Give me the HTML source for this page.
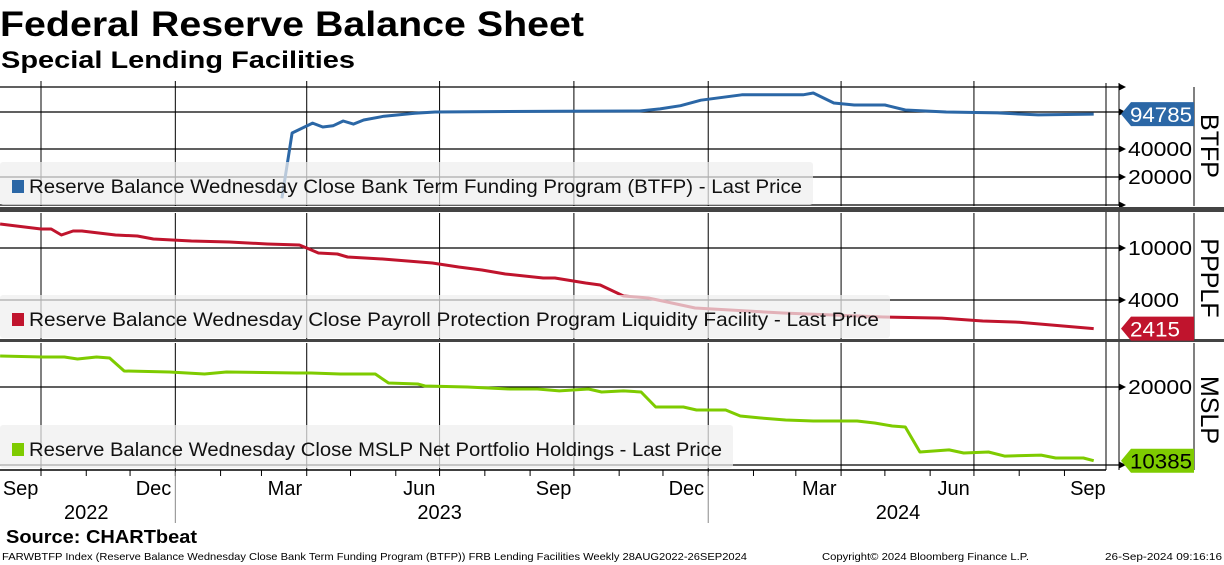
<!DOCTYPE html>
<html><head><meta charset="utf-8"><style>
html,body{margin:0;padding:0;background:#fff;width:1224px;height:565px;overflow:hidden}
svg{display:block;font-family:"Liberation Sans",sans-serif}
</style></head><body>
<svg id="chart" width="1224" height="565" viewBox="0 0 1224 565" xmlns="http://www.w3.org/2000/svg">
<text x="0" y="36" font-size="35" font-weight="bold" textLength="584" lengthAdjust="spacingAndGlyphs">Federal Reserve Balance Sheet</text>
<text x="1" y="68" font-size="24" font-weight="bold" textLength="354" lengthAdjust="spacingAndGlyphs">Special Lending Facilities</text>
<g id="grid"></g>
<g id="series"></g>
<g id="over"></g>
<text x="6" y="543" font-size="18" font-weight="bold" textLength="191" lengthAdjust="spacingAndGlyphs">Source: CHARTbeat</text>
<text x="2" y="560" font-size="10.5" textLength="745" lengthAdjust="spacingAndGlyphs">FARWBTFP Index (Reserve Balance Wednesday Close Bank Term Funding Program (BTFP)) FRB Lending Facilities  Weekly 28AUG2022-26SEP2024</text>
<text x="822" y="560" font-size="10.5" textLength="207" lengthAdjust="spacingAndGlyphs">Copyright© 2024 Bloomberg Finance L.P.</text>
<text x="1105" y="560" font-size="10.5" textLength="117" lengthAdjust="spacingAndGlyphs">26-Sep-2024 09:16:16</text>
</svg>
<script>
const btfpDates=["2023-03-15","2023-03-22","2023-04-05","2023-04-12","2023-04-19","2023-04-26","2023-05-03","2023-05-10","2023-05-24","2023-06-14","2023-06-28","2023-09-20","2023-11-15","2023-11-29","2023-12-13","2023-12-27","2024-01-24","2024-01-31","2024-03-06","2024-03-13","2024-03-27","2024-04-10","2024-05-01","2024-05-15","2024-06-12","2024-07-17","2024-08-14","2024-09-21"];
const btfpValues=[11800,59400,76000,69000,71000,80000,74000,82000,90000,97000,100000,102000,102500,107800,116700,134000,153000,153000,153000,160000,125000,119000,119000,105000,100000,97800,93000,94785];
const ppplfDates=["2022-09-03","2022-10-01","2022-10-08","2022-10-15","2022-10-23","2022-10-29","2022-11-21","2022-12-06","2022-12-17","2022-12-30","2023-01-12","2023-02-07","2023-03-05","2023-03-27","2023-04-01","2023-04-09","2023-04-22","2023-04-29","2023-05-23","2023-06-26","2023-07-14","2023-07-30","2023-08-15","2023-09-10","2023-09-18","2023-10-09","2023-10-19","2023-11-04","2023-11-21","2023-12-23","2024-02-21","2024-04-30","2024-06-09","2024-07-07","2024-08-01","2024-08-24","2024-09-21"];
const ppplfValues=[15260,13980,13980,12580,13490,13490,12580,12350,11720,11510,11310,11110,10730,10540,10000,9155,8995,8534,8238,7677,7154,6784,6323,5893,5893,5396,5210,4290,4140,3472,3181,2963,2910,2765,2707,2571,2415];
const mslpDates=["2022-09-03","2022-10-02","2022-10-17","2022-10-26","2022-11-08","2022-11-17","2022-11-27","2022-12-28","2023-01-21","2023-02-05","2023-03-25","2023-04-04","2023-04-24","2023-05-18","2023-05-27","2023-06-16","2023-06-21","2023-07-20","2023-08-18","2023-09-06","2023-09-21","2023-10-11","2023-10-20","2023-11-04","2023-11-16","2023-11-26","2023-12-15","2023-12-24","2024-01-13","2024-01-23","2024-02-06","2024-02-23","2024-03-13","2024-03-28","2024-04-12","2024-04-24","2024-05-06","2024-05-15","2024-05-25","2024-06-14","2024-06-24","2024-07-11","2024-07-22","2024-08-16","2024-08-26","2024-09-14","2024-09-21"];
const mslpValues=[26340,26110,26110,25660,26110,25890,23060,22860,22450,22860,22650,22650,22450,22450,20720,20540,20180,20000,19650,19650,19310,19650,19130,19310,19130,16740,16740,16300,16300,15450,15180,14910,14780,14780,14780,14520,14140,14020,11220,11430,11120,11220,10820,10920,10640,10640,10385];
const monthLabels=["Sep","Dec","Mar","Jun","Sep","Dec","Mar","Jun","Sep"];
const monthLabelDates=["2022-09-15","2022-12-15","2023-03-15","2023-06-15","2023-09-15","2023-12-15","2024-03-15","2024-06-15","2024-09-15"];
const yearLabels=["2022","2023","2024"];
const yearLabelDates=["2022-11-01","2023-07-01","2024-05-10"];
const btfpTicks=[40000,20000];
const ppplfTicks=[10000,4000];
const mslpTicks=[20000];

const NS="http://www.w3.org/2000/svg";
const ORIGIN=Date.UTC(2022,9,1);
function xScale(s){const p=s.split("-");const d=(Date.UTC(+p[0],+p[1]-1,+p[2])-ORIGIN)/86400000;return 41+d*1.46;}
function logScale(refV,refY,k){return v=>refY-k*Math.log(v/refV);}
const yB=logScale(40000,149,40.4), yP=logScale(10000,248,56.75), yM=logScale(20000,387,112.5);
function el(tag,attrs,parent,text){const e=document.createElementNS(NS,tag);for(const k in attrs)e.setAttribute(k,attrs[k]);if(text!==undefined)e.textContent=text;parent.appendChild(e);return e;}
const grid=document.getElementById('grid'),series=document.getElementById('series'),over=document.getElementById('over');

const panels=[{top:87,bot:206,ys:yB,grid:[100000,40000,20000,10000]},{top:213,bot:339,ys:yP,grid:[10000,4000]},{top:343,bot:470,ys:yM,grid:[20000,10000]}];
const vdates=["2022-10-01","2023-01-01","2023-04-01","2023-07-01","2023-10-01","2024-01-01","2024-04-01","2024-07-01"];
panels.forEach((p,pi)=>{
  vdates.forEach(d=>{const x=xScale(d);const l=el('line',{x1:x,x2:x,y1:p.top,y2:p.bot,stroke:'#000','stroke-width':1},grid);
    
    });
  p.grid.forEach(v=>{const y=p.ys(v);if(y<p.top-3||y>p.bot+3)return;const l=el('line',{x1:0,x2:1119,y1:y,y2:y,stroke:'#000','stroke-width':1.3},grid);
    
    
    const a=el('path',{d:`M1119 ${y-3.5}L1126 ${y}L1119 ${y+3.5}Z`,fill:'#000'},grid);
    
    });
  el('line',{x1:1106,x2:1106,y1:p.top-4,y2:p.bot,stroke:'#000','stroke-width':1},grid);
  el('line',{x1:1119,x2:1119,y1:p.top-4,y2:p.bot,stroke:'#000','stroke-width':1},grid);
  el('line',{x1:1194,x2:1194,y1:p.top,y2:p.bot,stroke:'#000','stroke-width':1},grid);
});
let topLine=el('line',{x1:0,x2:1119,y1:87,y2:87,stroke:'#000','stroke-width':1.3},grid);


el('path',{d:'M1119 83.5L1126 87L1119 90.5Z',fill:'#000'},grid);
vdates.forEach(d=>{const x=xScale(d);el('line',{x1:x,x2:x,y1:81,y2:87,stroke:'#000'},grid);});
let s1=el('rect',{x:0,y:207,width:1224,height:5,fill:'#444'},grid);


let s2=el('rect',{x:0,y:339,width:1224,height:3,fill:'#444'},grid);


el('line',{x1:0,x2:1106,y1:470,y2:470,stroke:'#000','stroke-width':1.5},grid);

function drawSeries(dates,vals,ys,color,name){
  const d=dates.map((t,i)=>(i?'L':'M')+xScale(t).toFixed(1)+' '+ys(vals[i]).toFixed(1)).join('');
  const p=el('path',{d:d,fill:'none',stroke:color,'stroke-width':3,'stroke-linejoin':'round'},series);
  
  
}
drawSeries(btfpDates,btfpValues,yB,'#2b67a6','btfp-line');
drawSeries(ppplfDates,ppplfValues,yP,'#c0142d','ppplf-line');
drawSeries(mslpDates,mslpValues,yM,'#7ecb00','mslp-line');

function legend(y,w,text,color,name,tl){
  const g=el('g',{},over);
  
  
  el('rect',{x:0,y:y,width:w,height:43,rx:3,fill:'#eeeeee','fill-opacity':0.72},g);
  el('rect',{x:12,y:y+18,width:12,height:13,fill:color},g);
  el('text',{x:29,y:y+31,'font-size':19.5,fill:'#111',textLength:tl,lengthAdjust:'spacingAndGlyphs'},g,text);
}
legend(162,813,"Reserve Balance Wednesday Close Bank Term Funding Program (BTFP) - Last Price",'#2b67a6','btfp-legend',773);
legend(295,890,"Reserve Balance Wednesday Close Payroll Protection Program Liquidity Facility - Last Price",'#c0142d','ppplf-legend',850);
legend(425,733,"Reserve Balance Wednesday Close MSLP Net Portfolio Holdings - Last Price",'#7ecb00','mslp-legend',693);

function ticks(arr,ys,name){arr.forEach(v=>{const t=el('text',{x:1128,y:ys(v)+7,'font-size':20,textLength:64,lengthAdjust:'spacingAndGlyphs'},over,String(v));
  
  
  if(v<10000)t.setAttribute('textLength',51);});}
ticks(btfpTicks,yB,'btfp-tick-label');ticks(ppplfTicks,yP,'ppplf-tick-label');ticks(mslpTicks,yM,'mslp-tick-label');

function tag(v,ys,bg,fg,name){const y=ys(v);
  const g=el('g',{},over);
  
  
  el('path',{d:`M1121 ${y}L1131 ${y-12}L1194 ${y-12}L1194 ${y+12}L1131 ${y+12}Z`,fill:bg},g);
  el('text',{x:1130,y:y+8,'font-size':21,fill:fg,textLength:62,lengthAdjust:'spacingAndGlyphs'},g,String(v));
  if(v<10000)g.lastChild.setAttribute('textLength',50);
}
tag(btfpValues[btfpValues.length-1],yB,'#2b67a6','#fff','btfp-last-value');
tag(ppplfValues[ppplfValues.length-1],yP,'#c0142d','#fff','ppplf-last-value');
tag(mslpValues[mslpValues.length-1],yM,'#7ecb00','#000','mslp-last-value');

[["BTFP",146],["PPPLF",278],["MSLP",410]].forEach(([t,cy])=>{const e=el('text',{x:0,y:0,'font-size':25,'text-anchor':'middle',transform:`translate(1201 ${cy}) rotate(90)`},over,t);
  
  });

for(let i=0;i<26;i++){const yy=2022+Math.floor((8+i)/12),mm=(8+i)%12;const x=xScale(`${yy}-${mm+1}-01`);if(x<0||x>1106)continue;el('line',{x1:x,x2:x,y1:470,y2:476,stroke:'#000'},grid);}
monthLabels.forEach((m,i)=>{const t=el('text',{x:xScale(monthLabelDates[i])+3,y:495,'font-size':20,'text-anchor':'middle'},over,m);
  
  });
yearLabels.forEach((m,i)=>{const t=el('text',{x:xScale(yearLabelDates[i]),y:519,'font-size':20,'text-anchor':'middle'},over,m);
  
  });
["2023-01-01","2024-01-01"].forEach(d=>{const x=xScale(d);el('line',{x1:x,x2:x,y1:472,y2:523,stroke:'#888'},grid);});
</script>
</body></html>
